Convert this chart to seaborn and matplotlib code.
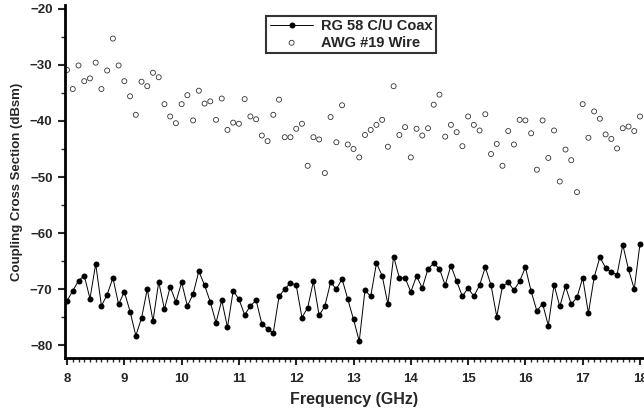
import numpy as np
import pandas as pd
import matplotlib
matplotlib.use("Agg")
import matplotlib.pyplot as plt
import seaborn as sns
from matplotlib.ticker import MultipleLocator

# frequency grid, 8 to 18 GHz in 0.1 GHz steps
freq = np.round(np.arange(80, 181) / 10.0, 1)

coax = [
    -72.1, -70.3, -68.5, -67.6, -71.7, -65.5, -73.0, -71.0, -68.0, -72.7,
    -70.5, -74.0, -78.3, -75.2, -70.0, -75.7, -68.7, -73.6, -69.6, -72.3,
    -68.8, -73.0, -70.9, -66.8, -69.3, -72.3, -76.0, -72.0, -76.8, -70.3,
    -71.8, -74.6, -73.0, -72.0, -76.2, -77.1, -77.8, -71.3, -70.0, -68.9,
    -69.3, -75.1, -73.3, -68.6, -74.7, -73.0, -68.8, -70.0, -68.2, -71.8,
    -75.4, -79.3, -70.2, -71.3, -65.4, -67.6, -72.7, -64.2, -68.0, -68.0,
    -70.5, -67.7, -69.8, -66.4, -65.4, -66.4, -69.3, -65.8, -68.6, -71.3,
    -69.8, -71.3, -69.3, -66.1, -69.3, -74.9, -69.5, -68.8, -70.2, -68.6,
    -66.1, -70.4, -73.9, -72.6, -76.5, -69.2, -73.1, -69.5, -72.7, -71.5,
    -68.0, -74.3, -67.9, -64.3, -66.2, -67.0, -67.4, -62.1, -66.5, -70.0,
    -61.9,
]

wire = [
    -30.9, -34.3, -30.1, -32.9, -32.4, -29.6, -34.3, -31.0, -25.3, -30.1,
    -32.9, -35.6, -38.9, -33.0, -33.8, -31.4, -32.2, -37.0, -39.2, -40.4,
    -37.0, -35.4, -39.9, -34.6, -36.9, -36.5, -39.8, -36.0, -41.6, -40.3,
    -40.5, -36.1, -39.2, -39.7, -42.6, -43.6, -38.9, -36.2, -42.9, -42.9,
    -41.4, -40.5, -48.0, -42.9, -43.3, -49.3, -39.3, -43.8, -37.2, -44.2,
    -45.0, -46.5, -42.5, -41.6, -40.7, -39.8, -44.6, -33.8, -42.5, -41.1,
    -46.5, -41.4, -42.6, -41.3, -37.1, -35.3, -42.8, -40.7, -42.0, -44.5,
    -39.2, -40.7, -41.7, -38.8, -45.9, -44.1, -48.0, -41.8, -44.2, -39.8,
    -39.9, -42.2, -48.7, -39.9, -46.6, -41.7, -50.8, -45.1, -47.0, -52.7,
    -37.0, -43.0, -38.3, -39.6, -42.4, -43.2, -44.9, -41.3, -41.0, -41.8,
    -39.2,
]

df = pd.DataFrame({"freq": freq, "coax": coax, "wire": wire})

sns.set_style("white")
plt.rcParams['font.family'] = ['Liberation Sans', 'DejaVu Sans']
plt.rcParams['font.weight'] = 'bold'

fig = plt.figure(figsize=(6.44, 4.12), dpi=100)
ax = fig.add_axes([0.101, 0.131, 0.899, 0.857])

sns.lineplot(data=df, x="freq", y="coax", ax=ax, color="black", linewidth=0.7,
             marker="o", markersize=4.3, markeredgewidth=0, label="RG 58 C/U Coax")
sns.scatterplot(data=df, x="freq", y="wire", ax=ax, s=13, facecolor="none",
                edgecolor="#333333", linewidth=0.6, marker="o", label="AWG #19 Wire")

ax.set_xlim(7.965, 18.07)
ax.set_ylim(-82.3, -19.3)
ax.xaxis.set_major_locator(MultipleLocator(1))
ax.xaxis.set_minor_locator(MultipleLocator(0.1))
ax.yaxis.set_major_locator(MultipleLocator(10))
ax.yaxis.set_minor_locator(MultipleLocator(5))
ax.tick_params(which="major", direction="out", length=5, width=1.5, labelsize=9.5,
               bottom=True, left=True)
ax.tick_params(axis="x", which="major", pad=6)
ax.tick_params(axis="y", which="major", pad=4)
ax.tick_params(which="minor", direction="out", length=3, width=1.0,
               bottom=True, left=True)
ax.set_xticks(np.arange(8, 19, 1))
ax.set_xticklabels([str(v) for v in range(8, 19)])

for side in ["top", "right"]:
    ax.spines[side].set_visible(False)
for side in ["left", "bottom"]:
    ax.spines[side].set_linewidth(2)
    ax.spines[side].set_color("black")

ax.set_xlabel("Frequency (GHz)", fontsize=11.5, fontweight="bold", labelpad=5)
ax.set_ylabel("Coupling Cross Section (dBsm)", fontsize=9.5, fontweight="bold", labelpad=5)

leg = ax.legend(loc="upper center", bbox_to_anchor=(0.494, 0.99), frameon=True,
                fancybox=False, fontsize=10.5, handlelength=3.0, borderpad=0.25,
                labelspacing=0.15, handletextpad=0.5)
leg.get_frame().set_edgecolor("black")
leg.get_frame().set_linewidth(1.5)

fig.savefig("out.png", dpi=100)
